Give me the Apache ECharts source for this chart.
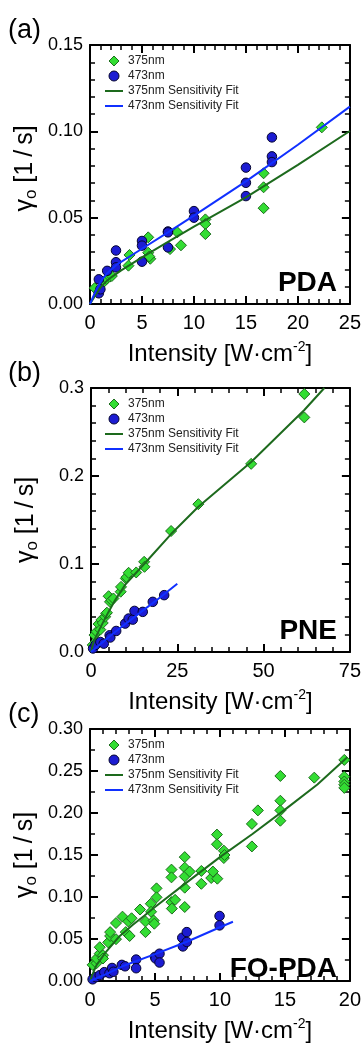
<!DOCTYPE html>
<html><head><meta charset="utf-8">
<script src="https://cdn.jsdelivr.net/npm/echarts@6/dist/echarts.min.js"></script>
<style>html,body{margin:0;padding:0;background:#fff}#c{width:364px;height:1044px}</style>
</head><body><div id="c"></div>
<script>
// ---------- data ----------
const panelTags = ['(a)', '(b)', '(c)'];
const panelNames = ['PDA', 'PNE', 'FO-PDA'];
const seriesNames = ['375nm', '473nm', '375nm Sensitivity Fit', '473nm Sensitivity Fit'];

const xTickLabelsA = ['0', '5', '10', '15', '20', '25'];
const xTickLabelsB = ['0', '25', '50', '75'];
const xTickLabelsC = ['0', '5', '10', '15', '20'];
const yTickLabelsA = ['0.00', '0.05', '0.10', '0.15'];
const yTickLabelsB = ['0.0', '0.1', '0.2', '0.3'];
const yTickLabelsC = ['0.00', '0.05', '0.10', '0.15', '0.20', '0.25', '0.30'];

// Panel (a) PDA
const a375 = [[0.45,0.0092],[1.2,0.012],[1.6,0.0145],[1.9,0.0158],[2.1,0.0162],[3.7,0.0222],[3.8,0.0284],
  [5.6,0.0386],[5.6,0.0297],[5.8,0.0262],[5.7,0.0275],[7.7,0.0318],[8.4,0.0415],[8.75,0.0340],
  [11.1,0.0490],[11.1,0.0463],[11.1,0.0405],[16.7,0.0757],[16.7,0.0676],[16.7,0.0555],[22.3,0.1023]];
const a473 = [[0.85,0.0143],[0.85,0.0062],[1.0,0.0085],[1.65,0.0192],[2.5,0.0310],[2.5,0.0242],[2.5,0.0212],
  [5.0,0.0365],[5.0,0.0338],[5.0,0.0245],[7.5,0.0420],[7.5,0.0415],[7.5,0.0328],[10.0,0.0538],[10.0,0.0500],
  [15.0,0.0790],[15.0,0.0702],[15.0,0.0625],[17.5,0.0965],[17.5,0.0855],[17.5,0.0822]];
const aFit375 = [[0,0],[0.5,0.005],[1,0.0095],[1.5,0.0128],[2,0.0153],[3,0.0195],[4,0.0232],[5,0.027],
  [7.5,0.036],[10,0.0448],[15,0.0618],[20,0.0806],[25,0.1002]];
const aFit473 = [[0,0],[0.4,0.0055],[0.8,0.0105],[1.2,0.0145],[1.6,0.0175],[2.5,0.0225],[5,0.032],
  [7.5,0.0415],[10,0.0512],[15,0.0710],[20,0.0922],[25,0.1143]];

// Panel (b) PNE
const b375 = [[0.5,0.008],[1.0,0.0193],[1.6,0.0231],[2.2,0.0318],[2.7,0.0254],[3.0,0.0364],[3.4,0.033],
  [4.1,0.040],[4.4,0.0437],[4.6,0.0447],[5.1,0.0634],[5.5,0.057],[5.9,0.059],[6.5,0.0608],[8.6,0.0685],
  [8.7,0.074],[10.1,0.0835],[10.3,0.0850],[10.9,0.0900],[13.1,0.0904],[15.4,0.1025],[15.5,0.0968],
  [23.2,0.1375],[31.1,0.168],[46.4,0.2138],[61.8,0.2932],[61.8,0.2666]];
const b473 = [[0.6,0.004],[1.3,0.008],[2.7,0.0114],[3.7,0.0095],[5.4,0.019],[5.6,0.0165],[7.3,0.0239],
  [9.9,0.0323],[10.9,0.038],[12.1,0.0368],[12.6,0.0467],[15.0,0.0456],[17.9,0.057],[21.2,0.0646]];
const bFit375 = [[0,0],[0.5,0.008],[1,0.014],[2,0.022],[3,0.03],[5,0.045],[7,0.059],[10,0.077],
  [15.4,0.1],[23.2,0.134],[31.1,0.165],[46.4,0.216],[61.8,0.275],[67.6,0.3]];
const bFit473 = [[0,0],[5,0.0165],[10,0.032],[15,0.047],[20,0.062],[25,0.0775]];

// Panel (c) FO-PDA
const c375 = [[0.2,0.0192],[0.5,0.0211],[0.5,0.0268],[0.75,0.0326],[0.75,0.0402],[1.0,0.0307],[1.0,0.0268],
  [1.4,0.046],[1.55,0.0536],[1.55,0.0582],[2.0,0.069],[2.0,0.0498],[2.5,0.0766],[2.75,0.0582],[2.95,0.0709],
  [3.05,0.0536],[3.2,0.0747],[3.85,0.0851],[4.27,0.0709],[4.27,0.0582],[4.68,0.092],[4.7,0.0824],[4.9,0.072],
  [4.95,0.0682],[5.12,0.1103],[5.12,0.0996],[6.27,0.1326],[6.27,0.1234],[6.27,0.0939],[6.3,0.0862],[6.55,0.0966],
  [7.29,0.1475],[7.29,0.1349],[7.29,0.1245],[7.29,0.1111],[7.29,0.0881],[7.67,0.1303],[8.57,0.131],[8.57,0.1157],
  [9.33,0.1226],[9.46,0.1303],[9.77,0.1743],[9.77,0.1628],[9.8,0.1218],[10.3,0.1464],[10.3,0.1552],[10.35,0.150],
  [12.46,0.187],[12.46,0.1602],[12.92,0.2031],[14.65,0.2441],[14.65,0.2146],[14.65,0.2031],[14.65,0.1908],
  [17.26,0.2421],[19.57,0.2632],[19.57,0.2433],[19.57,0.2375],[19.57,0.2337],[19.57,0.2299]];
const c473 = [[0.2,0.002],[0.45,0.0046],[0.75,0.0069],[1.1,0.0105],[1.5,0.0092],[1.7,0.0155],[1.8,0.011],
  [2.45,0.0192],[2.7,0.0175],[3.55,0.0255],[3.55,0.0152],[5.0,0.0287],[5.05,0.0268],[5.35,0.0325],[5.35,0.022],
  [7.1,0.0515],[7.15,0.0412],[7.45,0.0582],[7.45,0.0465],[9.97,0.0774],[9.97,0.0662]];
const cFit375 = [[0,0],[0.25,0.01],[0.5,0.019],[1.2,0.034],[2.25,0.053],[3.3,0.067],[4.2,0.078],[5,0.088],
  [7.5,0.118],[10,0.1475],[12.5,0.175],[15,0.204],[17.5,0.234],[19.8,0.2663]];
const cFit473 = [[0,0],[1,0.0065],[2.5,0.0175],[5,0.032],[7.5,0.047],[10,0.064],[11,0.0705]];

// ---------- layout / style ----------
const FONT = 'Liberation Sans, Arial, Helvetica, sans-serif';
const panels = [
  {grid:{left:90, top:45, width:261, height:259}, xMax:25, xInt:5, yMax:0.15, yInt:0.05, yMinor:5,
   xLabels:xTickLabelsA, yLabels:yTickLabelsA, d375:a375, d473:a473, f375:aFit375, f473:aFit473},
  {grid:{left:91, top:388, width:260, height:264}, xMax:75, xInt:25, yMax:0.3, yInt:0.1, yMinor:5,
   xLabels:xTickLabelsB, yLabels:yTickLabelsB, d375:b375, d473:b473, f375:bFit375, f473:bFit473},
  {grid:{left:90, top:729, width:261, height:261}, xMax:20, xInt:5, yMax:0.3, yInt:0.05, yMinor:2,
   xLabels:xTickLabelsC, yLabels:yTickLabelsC, d375:c375, d473:c473, f375:cFit375, f473:cFit473}
];

const GREEN_FILL = '#33dd33', GREEN_EDGE = '#1e6e1e', GREEN_LINE = '#1d6a1d';
const BLUE_FILL = '#1c1cd2', BLUE_EDGE = '#050530', BLUE_LINE = '#1030ff';
const ICON_DIAMOND = 'path://M5,0L10,5L5,10L0,5Z';
const ICON_CIRCLE = 'path://M1,5a4,4 0 1,0 8,0a4,4 0 1,0 -8,0ZM0,5L0,5.01ZM10,5L10,5.01Z';
const ICON_LINE = 'path://M0,0H18V2H0Z';

const grids = [], xAxes = [], yAxes = [], series = [], legends = [], titles = [];

function axisBase(gi, max, interval, minorSplit) {
  return {
    type: 'value', gridIndex: gi, min: 0, max: max, interval: interval,
    axisLine: {show: true, onZero: false, lineStyle: {color: '#000', width: 2}},
    axisTick: {show: true, inside: true, length: 8, lineStyle: {color: '#000', width: 2}},
    minorTick: {show: true, splitNumber: minorSplit, length: 5, lineStyle: {color: '#000', width: 1.5}},
    splitLine: {show: false}, minorSplitLine: {show: false},
    nameMoveOverlap: false
  };
}

panels.forEach((p, i) => {
  grids.push(Object.assign({containLabel: false}, p.grid));
  xAxes.push(Object.assign(axisBase(i, p.xMax, p.xInt, 5), {
    position: 'bottom',
    axisLabel: {show: true, margin: 9, color: '#000', fontSize: 20, fontFamily: FONT,
      formatter: (v) => p.xLabels[Math.round(v / p.xInt)]},
    name: '{t|Intensity [W·cm}{p|-2}{t|]}', nameLocation: 'middle', nameGap: 36,
    nameTextStyle: {color: '#000', fontFamily: FONT, rich: {
      t: {fontSize: 24, fontFamily: FONT, color: '#000', lineHeight: 28},
      p: {fontSize: 14, fontFamily: FONT, color: '#000', verticalAlign: 'top', lineHeight: 28}
    }}
  }));
  xAxes.push(Object.assign(axisBase(i, p.xMax, p.xInt, 5), {
    position: 'top', axisLabel: {show: false}
  }));
  yAxes.push(Object.assign(axisBase(i, p.yMax, p.yInt, p.yMinor), {
    position: 'left',
    axisLabel: {show: true, margin: 7, color: '#000', fontSize: 18, fontFamily: FONT,
      formatter: (v) => p.yLabels[Math.round(v / p.yInt)]},
    name: '{g|γ}{s|o}{g| [1\u2009/\u2009s]}', nameLocation: 'middle', nameGap: 50, nameRotate: 90,
    nameTextStyle: {color: '#000', fontFamily: FONT, align: 'center', verticalAlign: 'bottom',
      padding: i === 0 ? [0, 0, 0, 12] : [0, 0, 0, 0], rich: {
      g: {fontSize: 25, fontFamily: FONT, color: '#000', lineHeight: 30},
      s: {fontSize: 17, fontFamily: FONT, color: '#000', verticalAlign: 'bottom', lineHeight: 30}
    }}
  }));
  yAxes.push(Object.assign(axisBase(i, p.yMax, p.yInt, p.yMinor), {
    position: 'right', axisLabel: {show: false}
  }));

  const xi = 2 * i, yi = 2 * i;
  series.push({
    name: seriesNames[0], type: 'scatter', xAxisIndex: xi, yAxisIndex: yi, data: p.d375,
    symbol: 'diamond', symbolSize: 11, z: 3,
    itemStyle: {color: GREEN_FILL, borderColor: GREEN_EDGE, borderWidth: 1, opacity: 1}
  });
  series.push({
    name: seriesNames[1], type: 'scatter', xAxisIndex: xi, yAxisIndex: yi, data: p.d473,
    symbol: 'circle', symbolSize: 9.5, z: 3,
    itemStyle: {color: BLUE_FILL, borderColor: BLUE_EDGE, borderWidth: 1, opacity: 1}
  });
  series.push({
    name: seriesNames[2], type: 'line', xAxisIndex: xi, yAxisIndex: yi, data: p.f375,
    symbol: 'none', showSymbol: false, smooth: false, z: 4,
    lineStyle: {color: GREEN_LINE, width: 2}, itemStyle: {color: GREEN_LINE}
  });
  series.push({
    name: seriesNames[3], type: 'line', xAxisIndex: xi, yAxisIndex: yi, data: p.f473,
    symbol: 'none', showSymbol: false, smooth: false, z: 4,
    lineStyle: {color: BLUE_LINE, width: 2}, itemStyle: {color: BLUE_LINE}
  });

  legends.push({
    data: [
      {name: seriesNames[0], icon: ICON_DIAMOND, itemStyle: {color: GREEN_FILL, borderColor: GREEN_EDGE, borderWidth: 1}},
      {name: seriesNames[1], icon: ICON_CIRCLE, itemStyle: {color: BLUE_FILL, borderColor: BLUE_EDGE, borderWidth: 1}},
      {name: seriesNames[2], icon: ICON_LINE, itemStyle: {color: GREEN_LINE, borderWidth: 0}},
      {name: seriesNames[3], icon: ICON_LINE, itemStyle: {color: BLUE_LINE, borderWidth: 0}}
    ],
    orient: 'vertical', left: 105, top: p.grid.top + 10, symbolKeepAspect: true,
    itemWidth: 18, itemHeight: 10, itemGap: 3, padding: 0, selectedMode: false,
    textStyle: {fontSize: 12, fontFamily: FONT, color: '#222'}
  });

  titles.push({
    text: panelTags[i], left: 8, top: p.grid.top - 28, padding: 0,
    textStyle: {fontSize: 27, fontWeight: 'normal', fontFamily: FONT, color: '#000'}
  });
  titles.push({
    text: panelNames[i], right: 27, top: p.grid.top + p.grid.height - 35, padding: 0,
    textStyle: {fontSize: 28, fontWeight: 'bold', fontFamily: FONT, color: '#000'}
  });
});

const chart = echarts.init(document.getElementById('c'), null, {renderer: 'canvas'});
chart.setOption({
  animation: false,
  backgroundColor: '#fff',
  title: titles,
  legend: legends,
  grid: grids,
  xAxis: xAxes,
  yAxis: yAxes,
  series: series
});
</script>
</body></html>
